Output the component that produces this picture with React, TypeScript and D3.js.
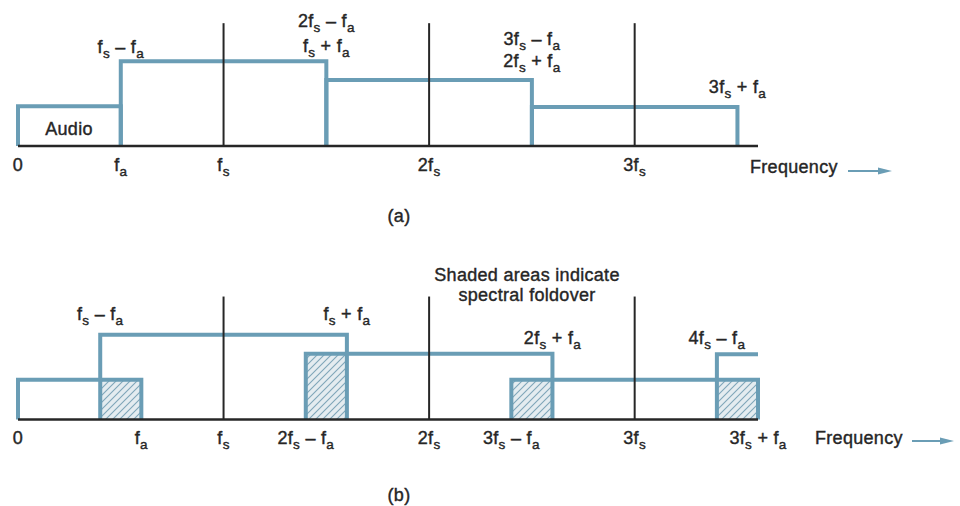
import React from "react";
import * as d3 from "d3";

// ---------- data (frequency in units of fs, amplitude relative) ----------
const ticksA = [0, 0.5, 1, 2, 3];
const tickLabelsA = ["0", "f_a", "f_s", "2f_s", "3f_s"];
const gridA = [1, 2, 3];
const bandStartsA = [0, 0.5, 1.5, 2.5];
const bandEndsA = [0.5, 1.5, 2.5, 3.5];
const bandLevelsA = [0.47, 1.0, 0.78, 0.46];
const annotXA = [0.5, 1.5, 1.5, 2.5, 2.5, 3.5];
const annotTextA = ["f_s – f_a", "2f_s – f_a", "f_s + f_a", "3f_s – f_a", "2f_s + f_a", "3f_s + f_a"];

const ticksB = [0, 0.6, 1, 1.4, 2, 2.4, 3, 3.6];
const tickLabelsB = ["0", "f_a", "f_s", "2f_s – f_a", "2f_s", "3f_s – f_a", "3f_s", "3f_s + f_a"];
const gridB = [1, 2, 3];
const bandStartsB = [0, 0.4, 1.4, 2.4, 3.4];
const bandEndsB = [0.6, 1.6, 2.6, 3.6, 3.6];
const bandLevelsB = [0.47, 1.0, 0.776, 0.47, 0.77];
const bandClosedB = [true, true, true, true, false];
const foldStartsB = [0.4, 1.4, 2.4, 3.4];
const foldEndsB = [0.6, 1.6, 2.6, 3.6];
const foldLevelsB = [0.47, 0.776, 0.47, 0.47];
const annotXB = [0.4, 1.6, 2.6, 3.4];
const annotTextB = ["f_s – f_a", "f_s + f_a", "2f_s + f_a", "4f_s – f_a"];

const gridTop = 1.45;
const xDomain = [0, 3.6];

// ---------- layout ----------
const W = 960;
const H = 506;
const X0 = 18;
const X1 = 758;
const baseA = 146;
const topA = 61.3;
const baseB = 419.5;
const topB = 334.7;
const annotYA = [53, 27, 52, 45, 67, 93];
const annotYB = [320, 320, 344, 344];

const BLUE = "#6a9db5";
const INK = "#262626";
const FONT = "'Liberation Sans', Arial, Helvetica, sans-serif";
const FS = 18;
const SUB = 13.5;
const SUBDY = 5;

function Label({ x, y, text, anchor = "middle" }: { x: number; y: number; text: string; anchor?: string }) {
  const parts = text.split(/_(\w)/);
  const spans: React.ReactNode[] = [];
  let shifted = false;
  parts.forEach((p, i) => {
    if (i % 2 === 1) {
      spans.push(
        <tspan key={i} fontSize={SUB} dy={SUBDY}>
          {p}
        </tspan>
      );
      shifted = true;
    } else if (p.length) {
      spans.push(
        <tspan key={i} dy={shifted ? -SUBDY : 0}>
          {p}
        </tspan>
      );
      shifted = false;
    }
  });
  return (
    <text
      x={x}
      y={y}
      textAnchor={anchor}
      fontFamily={FONT}
      fontSize={FS}
      fill={INK}
      stroke={INK}
      strokeWidth={0.4}
      letterSpacing={0.3}
      style={{ whiteSpace: "pre" }}
    >
      {spans}
    </text>
  );
}

function Arrow({ x1, x2, y }: { x1: number; x2: number; y: number }) {
  return (
    <g>
      <line x1={x1} x2={x2 - 8} y1={y} y2={y} stroke={BLUE} strokeWidth={2} />
      <path d={`M${x2 - 14},${y - 3.5} L${x2},${y} L${x2 - 14},${y + 3.5} Z`} fill={BLUE} />
    </g>
  );
}

export default function App() {
  const x = d3.scaleLinear().domain(xDomain).range([X0, X1]);
  const yA = d3.scaleLinear().domain([0, 1]).range([baseA, topA]);
  const yB = d3.scaleLinear().domain([0, 1]).range([baseB, topB]);

  const bandPath = (x0: number, x1: number, lev: number, y: d3.ScaleLinear<number, number>, closed = true) => {
    const p = d3.path();
    p.moveTo(x(x0), y(0));
    p.lineTo(x(x0), y(lev));
    p.lineTo(x(x1), y(lev));
    if (closed) p.lineTo(x(x1), y(0));
    return p.toString();
  };

  return (
    <svg width={W} height={H} style={{ position: "absolute", left: 0, top: 0, background: "#fff" }}>
      <defs>
        <pattern id="hatch" width={7} height={7} patternUnits="userSpaceOnUse">
          <rect width={7} height={7} fill="#e4ecf0" />
          <path d="M-1,1 L1,-1 M0,7 L7,0 M6,8 L8,6" stroke="#7fa6b9" strokeWidth={1.1} />
        </pattern>
      </defs>

      {/* ---------- panel (a) ---------- */}
      <g>
        {bandStartsA.map((s, i) => (
          <path key={i} d={bandPath(s, bandEndsA[i], bandLevelsA[i], yA)} fill="none" stroke={BLUE} strokeWidth={4} strokeLinejoin="miter" />
        ))}
        {gridA.map((g) => (
          <line key={g} x1={x(g)} x2={x(g)} y1={yA(gridTop)} y2={yA(0)} stroke={INK} strokeWidth={2} />
        ))}
        <line x1={x(0)} x2={x(3.6)} y1={yA(0)} y2={yA(0)} stroke={INK} strokeWidth={2.5} />
        <Label x={69} y={135} text="Audio" />
        {ticksA.map((t, i) => (
          <Label key={i} x={x(t)} y={171} text={tickLabelsA[i]} />
        ))}
        {annotXA.map((a, i) => (
          <Label key={i} x={x(a)} y={annotYA[i]} text={annotTextA[i]} />
        ))}
        <Label x={750} y={173} text="Frequency" anchor="start" />
        <Arrow x1={848} x2={892} y={171} />
        <Label x={399} y={222} text="(a)" />
      </g>

      {/* ---------- panel (b) ---------- */}
      <g>
        {foldStartsB.map((s, i) => (
          <rect key={i} x={x(s)} y={yB(foldLevelsB[i])} width={x(foldEndsB[i]) - x(s)} height={yB(0) - yB(foldLevelsB[i])} fill="url(#hatch)" />
        ))}
        {bandStartsB.map((s, i) => (
          <path key={i} d={bandPath(s, bandEndsB[i], bandLevelsB[i], yB, bandClosedB[i])} fill="none" stroke={BLUE} strokeWidth={4} strokeLinejoin="miter" />
        ))}
        {gridB.map((g) => (
          <line key={g} x1={x(g)} x2={x(g)} y1={yB(gridTop)} y2={yB(0)} stroke={INK} strokeWidth={2} />
        ))}
        <line x1={x(0)} x2={x(3.6)} y1={yB(0)} y2={yB(0)} stroke={INK} strokeWidth={2.5} />
        {ticksB.map((t, i) => (
          <Label key={i} x={x(t)} y={444} text={tickLabelsB[i]} />
        ))}
        {annotXB.map((a, i) => (
          <Label key={i} x={x(a)} y={annotYB[i]} text={annotTextB[i]} />
        ))}
        <Label x={527} y={281} text="Shaded areas indicate" />
        <Label x={527} y={301} text="spectral foldover" />
        <Label x={815} y={444} text="Frequency" anchor="start" />
        <Arrow x1={912} x2={954} y={441} />
        <Label x={399} y={501} text="(b)" />
      </g>
    </svg>
  );
}
